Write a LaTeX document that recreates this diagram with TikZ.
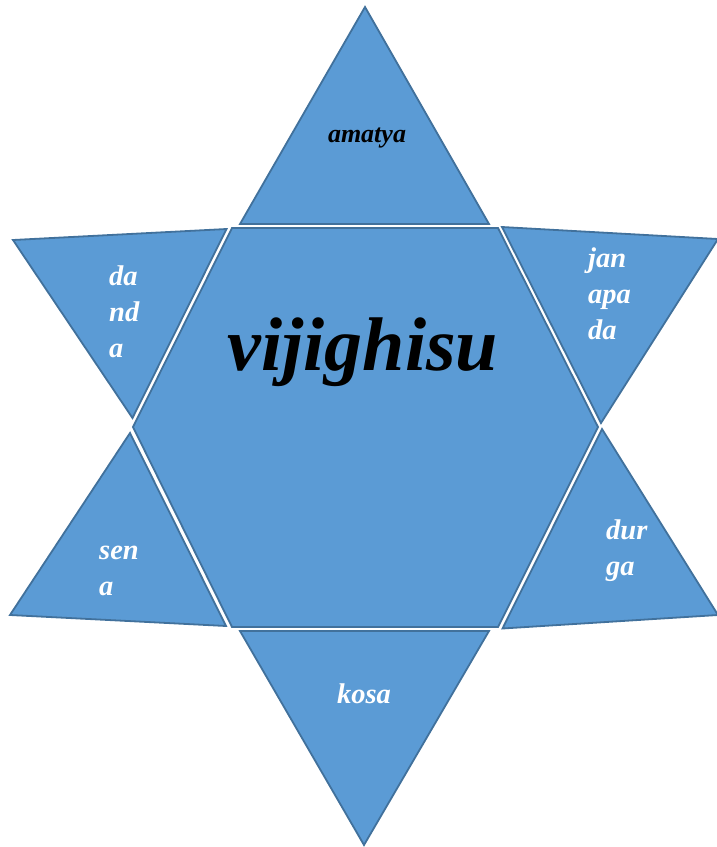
\documentclass[tikz,border=0pt]{standalone}
\usepackage{fontspec}
\setmainfont{Liberation Serif}
\usepackage{tikz}
\usetikzlibrary{positioning}
\definecolor{piecefill}{HTML}{5B9BD5}
\definecolor{pieceline}{HTML}{41719C}
\tikzset{
  piece/.style = {fill=piecefill, draw=pieceline, line width=1.8pt, line join=miter},
  lbl/.style   = {font=\fontsize{28.5}{36}\selectfont\bfseries\itshape, text=white,
                  align=left, anchor=base west, inner sep=0pt},
  core/.style  = {font=\fontsize{76}{80}\selectfont\bfseries\itshape, text=black,
                  anchor=base, inner sep=0pt},
}

\begin{document}
\begin{tikzpicture}[x=1pt,y=-1pt]
  \useasboundingbox (0,0) rectangle (717,847);
  % centre hexagon
  \draw[piece] (232,228) -- (498,228) -- (598,427) -- (498,627) -- (232,627) -- (133,427) -- cycle;
  % the six points of the star
  \draw[piece] (365,7) -- (489,224) -- (240,224) -- cycle;
  \draw[piece] (502,227) -- (718,239) -- (601,423) -- cycle;
  \draw[piece] (13,240) -- (226.5,229) -- (132.5,418) -- cycle;
  \draw[piece] (130,433) -- (226,626) -- (10,615) -- cycle;
  \draw[piece] (602,429) -- (718,615) -- (502.5,628.5) -- cycle;
  \draw[piece] (240,631) -- (489,631) -- (364,845) -- cycle;

  % labels (base = last line)
  \node[core] (vijighisu) at (363,370) {vijighisu};
  \node[lbl, text=black, anchor=base, font=\fontsize{26}{30}\selectfont\bfseries\itshape] (amatya) at (367,142) {amatya};
  \node[lbl] (janapada) at (588,339) {jan\\apa\\da};
  \node[lbl] (danda) at (109,357) {da\\nd\\a};
  \node[lbl] (sena) at (99,595) {sen\\a};
  \node[lbl] (durga) at (606,575) {dur\\ga};
  \node[lbl, anchor=base] (kosa) at (364,703) {kosa};
\end{tikzpicture}
\end{document}
